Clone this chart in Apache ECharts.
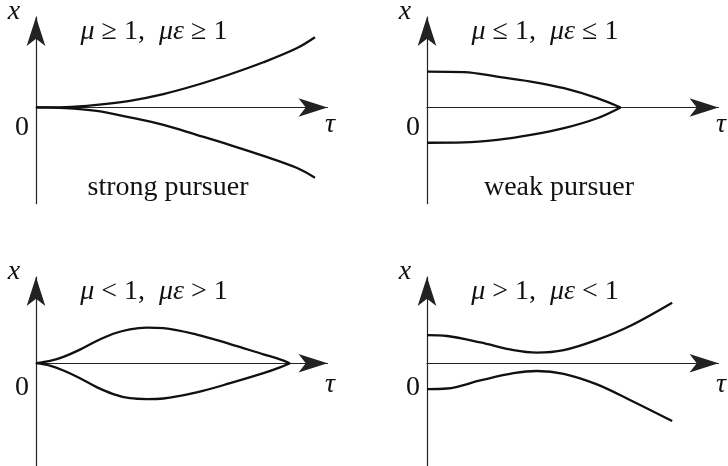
<!DOCTYPE html>
<html>
<head>
<meta charset="utf-8">
<script src="https://cdn.jsdelivr.net/npm/echarts@6/dist/echarts.min.js"></script>
<style>
  html, body { margin: 0; padding: 0; background: #fff; }
  #chart { width: 728px; height: 466px; }
</style>
</head>
<body>
<div id="chart"></div>
<script>
// Phase portraits of the pursuit problem: x versus τ for four parameter regimes.

// Strong pursuer (μ ≥ 1, με ≥ 1)
const strongTau   = [0, 1.0, 2.08, 3.22, 4.37, 5.51, 6.66, 7.80, 8.94, 9.57];
const strongUpper = [0, 0.01, 0.09, 0.23, 0.46, 0.77, 1.14, 1.55, 2.03, 2.41];
const strongLower = [0, -0.02, -0.12, -0.34, -0.60, -0.94, -1.29, -1.66, -2.07, -2.41];

// Weak pursuer (μ ≤ 1, με ≤ 1)
const weakTau   = [0, 1.27, 2.41, 3.56, 4.70, 5.84, 6.64];
const weakUpper = [1.23, 1.21, 1.06, 0.89, 0.66, 0.32, 0];
const weakLower = [-1.21, -1.20, -1.11, -0.94, -0.71, -0.37, 0];

// μ < 1, με > 1
const lensTau   = [0, 0.48, 0.94, 1.51, 2.08, 2.65, 3.22, 3.80, 4.37, 5.51, 6.66, 7.80, 8.37, 8.71];
const lensUpper = [0, 0.08, 0.23, 0.49, 0.80, 1.06, 1.22, 1.28, 1.26, 1.03, 0.69, 0.32, 0.14, 0];
const lensLower = [0, -0.09, -0.26, -0.54, -0.86, -1.11, -1.26, -1.29, -1.27, -1.05, -0.72, -0.36, -0.15, 0];

// μ > 1, με < 1
const neckTau   = [0, 0.69, 1.83, 2.97, 3.77, 4.69, 5.83, 6.98, 8.41];
const neckUpper = [1.01, 0.98, 0.75, 0.47, 0.38, 0.47, 0.84, 1.35, 2.18];
const neckLower = [-0.93, -0.91, -0.62, -0.36, -0.28, -0.38, -0.76, -1.33, -2.08];

// Panel captions
const panelConditions = [
  '{m|μ} ≥ 1,  {m|με} ≥ 1',
  '{m|μ} ≤ 1,  {m|με} ≤ 1',
  '{m|μ} < 1,  {m|με} > 1',
  '{m|μ} > 1,  {m|με} < 1'
];
const panelNotes = ['strong pursuer', 'weak pursuer', '', ''];

const FONT = 'Liberation Serif';
const FS = 28;
const INK = '#111';

function zip(t, v) { return t.map((tv, i) => [tv, v[i]]); }

// Panel frames: left edge of the τ axis and vertical range of the x axis
const panels = [
  { left: 36,  top: 17.1,  yMin: -3.3, yMax: 3.1 },
  { left: 427, top: 17.1,  yMin: -3.3, yMax: 3.1 },
  { left: 36,  top: 277.1, yMin: -3.7, yMax: 3.1 },
  { left: 427, top: 277.1, yMin: -3.7, yMax: 3.1 }
];
const UNIT = 29.15; // pixels per axis unit
const TAU_MAX = 10;

const axisLine = {
  show: true,
  onZero: true,
  symbol: ['none', 'arrow'],
  symbolSize: [14, 29],
  lineStyle: { color: '#222', width: 1.2 }
};

const grid = [], xAxis = [], yAxis = [], graphic = [];
panels.forEach((p, i) => {
  grid.push({ left: p.left, top: p.top, width: TAU_MAX * UNIT, height: (p.yMax - p.yMin) * UNIT });
  xAxis.push({
    type: 'value', gridIndex: i, min: 0, max: TAU_MAX,
    axisLine: axisLine, axisTick: { show: false }, axisLabel: { show: false }, splitLine: { show: false }
  });
  yAxis.push({
    type: 'value', gridIndex: i, min: p.yMin, max: p.yMax,
    axisLine: axisLine, axisTick: { show: false }, axisLabel: { show: false }, splitLine: { show: false }
  });

  const originY = p.top + p.yMax * UNIT;
  // axis names and origin mark
  graphic.push({ type: 'text', x: p.left - 22, y: p.top - 5,
    style: { text: 'x', fill: INK, fontFamily: FONT, fontSize: FS, fontStyle: 'italic', align: 'center', verticalAlign: 'middle' } });
  graphic.push({ type: 'text', x: p.left - 14, y: originY + 20,
    style: { text: '0', fill: INK, fontFamily: FONT, fontSize: FS, align: 'center', verticalAlign: 'middle' } });
  graphic.push({ type: 'text', x: p.left + 294, y: originY + 17,
    style: { text: 'τ', fill: INK, fontFamily: FONT, fontSize: FS, fontStyle: 'italic', align: 'center', verticalAlign: 'middle' } });
  // regime condition
  graphic.push({ type: 'text', x: p.left + 118, y: p.top + 15,
    style: { text: panelConditions[i], fill: INK, fontFamily: FONT, fontSize: FS, align: 'center', verticalAlign: 'middle',
      rich: { m: { fontFamily: FONT, fontSize: FS, fontStyle: 'italic', fill: INK } } } });
  if (panelNotes[i]) {
    graphic.push({ type: 'text', x: p.left + 132, y: originY + 80,
      style: { text: panelNotes[i], fill: INK, fontFamily: FONT, fontSize: FS, align: 'center', verticalAlign: 'middle' } });
  }
});

function curve(idx, t, v) {
  return {
    type: 'line', xAxisIndex: idx, yAxisIndex: idx,
    data: zip(t, v), showSymbol: false, smooth: 0.35,
    lineStyle: { color: INK, width: 2.3 }, z: 3
  };
}

const series = [
  curve(0, strongTau, strongUpper), curve(0, strongTau, strongLower),
  curve(1, weakTau, weakUpper), curve(1, weakTau, weakLower),
  curve(2, lensTau, lensUpper), curve(2, lensTau, lensLower),
  curve(3, neckTau, neckUpper), curve(3, neckTau, neckLower)
];

const chart = echarts.init(document.getElementById('chart'), null, { renderer: 'canvas' });
chart.setOption({
  animation: false,
  backgroundColor: '#fff',
  grid, xAxis, yAxis, series, graphic
});
</script>
</body>
</html>
